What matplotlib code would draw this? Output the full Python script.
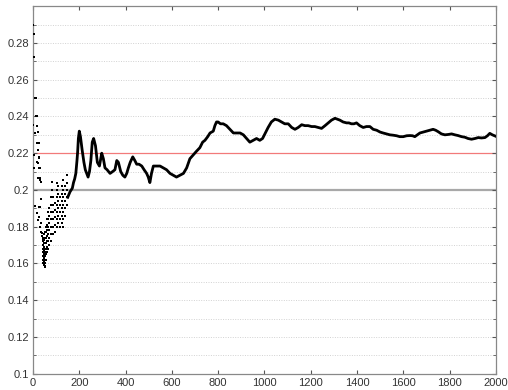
import matplotlib
matplotlib.use("Agg")
import matplotlib.pyplot as plt
from matplotlib.ticker import MultipleLocator

plt.rcParams['font.family'] = ['Liberation Sans', 'DejaVu Sans']

# running estimate after the first ~150 samples
est_x = [150, 160, 170, 175, 180, 185, 190, 193, 196, 200, 205, 212, 220, 226, 232,
         238, 244, 250, 256, 262, 270, 278, 287, 297, 304, 311, 320, 333, 344, 354,
         362, 369, 379, 388, 397, 405, 412, 420, 431, 440, 448, 458, 470, 480, 491,
         498, 505, 512, 520, 535, 549, 563, 577, 592, 606, 620, 635, 650, 664, 678,
         692, 706, 721, 733, 743, 755, 765, 779, 786, 793, 800, 810, 822, 836, 851,
         866, 880, 895, 909, 923, 937, 952, 966, 980, 992, 1004, 1016, 1030, 1045,
         1060, 1074, 1088, 1103, 1118, 1132, 1146, 1161, 1175, 1189, 1204, 1218,
         1232, 1247, 1262, 1276, 1290, 1305, 1315, 1326, 1340, 1355, 1365, 1376,
         1387, 1398, 1412, 1427, 1441, 1456, 1470, 1485, 1500, 1513, 1528, 1542,
         1556, 1571, 1585, 1600, 1615, 1629, 1640, 1650, 1661, 1672, 1686, 1701,
         1715, 1729, 1740, 1751, 1765, 1780, 1795, 1809, 1823, 1837, 1852, 1866,
         1880, 1895, 1910, 1924, 1938, 1953, 1964, 1974, 1985, 1996, 2000]
est_y = [0.196, 0.199, 0.201, 0.204, 0.206, 0.209, 0.216, 0.221, 0.228, 0.232, 0.229,
         0.222, 0.215, 0.211, 0.209, 0.207, 0.210, 0.216, 0.226, 0.228, 0.224, 0.215,
         0.213, 0.220, 0.217, 0.212, 0.211, 0.209, 0.210, 0.211, 0.216, 0.215, 0.210,
         0.208, 0.207, 0.209, 0.212, 0.215, 0.218, 0.216, 0.214, 0.214, 0.213, 0.211,
         0.209, 0.207, 0.204, 0.209, 0.213, 0.213, 0.213, 0.212, 0.211, 0.209, 0.208,
         0.207, 0.208, 0.209, 0.212, 0.217, 0.219, 0.221, 0.223, 0.226, 0.227, 0.229,
         0.231, 0.232, 0.235, 0.237, 0.237, 0.236, 0.236, 0.235, 0.233, 0.231, 0.231,
         0.231, 0.230, 0.228, 0.226, 0.227, 0.228, 0.227, 0.228, 0.231, 0.234, 0.237,
         0.2385, 0.238, 0.237, 0.236, 0.236, 0.234, 0.233, 0.234, 0.2355, 0.235,
         0.235, 0.2345, 0.2345, 0.234, 0.2335, 0.235, 0.2365, 0.238, 0.239, 0.2385,
         0.238, 0.237, 0.2365, 0.2365, 0.236, 0.236, 0.2365, 0.235, 0.234, 0.2345,
         0.2345, 0.233, 0.2325, 0.2315, 0.231, 0.2305, 0.230, 0.2298, 0.2295, 0.229,
         0.229, 0.2295, 0.2296, 0.2295, 0.229, 0.230, 0.231, 0.2315, 0.232, 0.2325,
         0.233, 0.2325, 0.2317, 0.2305, 0.230, 0.2302, 0.2305, 0.230, 0.2296, 0.229,
         0.2287, 0.228, 0.2276, 0.228, 0.2285, 0.2283, 0.2285, 0.2295, 0.2308, 0.230,
         0.2294, 0.2292]

# scattered early estimates (first ~180 samples)
early_x = [2, 4, 6, 8, 10, 14, 12, 16, 1, 9, 18, 20, 16, 24, 22, 4, 19, 26, 28, 20,
           4, 24, 30, 23, 30, 32, 36, 9, 34, 16, 26, 30, 23, 28, 30, 34, 38, 36, 40,
           42, 44, 46, 50, 52,
           45, 45, 45, 45, 45, 45, 45, 45,
           48, 48, 48, 48, 48, 48, 48, 48, 48,
           52, 52, 52, 52, 52, 52, 52, 52, 52,
           56, 56, 56, 56, 56, 56, 56,
           60, 60, 60, 60, 60, 60, 60,
           65, 65, 65, 65, 65, 65,
           70, 70, 70, 70, 70, 70,
           76, 76, 76, 76, 76, 76, 76,
           81, 81, 81, 81, 81, 81, 81, 81,
           88, 88, 88, 88, 88, 88,
           95, 95, 95, 95, 95,
           102, 102, 102, 102, 102, 102, 102,
           110, 110, 110, 110, 110, 110,
           117, 117, 117, 117, 117,
           124, 124, 124, 124, 124, 124,
           131, 131, 131, 131, 131, 131, 131,
           138, 138, 138, 138, 138,
           146, 146, 146, 146, 146]
early_y = [0.29, 0.285, 0.2726, 0.25, 0.25, 0.25, 0.24, 0.24, 0.2354, 0.231, 0.2348,
           0.2318, 0.2254, 0.2256, 0.222, 0.219, 0.2154, 0.218, 0.2175, 0.2147,
           0.2118, 0.2118, 0.2118, 0.2064, 0.2065, 0.2055, 0.2045, 0.191, 0.195,
           0.1873, 0.1907, 0.1907, 0.1837, 0.1855, 0.18, 0.182, 0.1764, 0.177, 0.175,
           0.1728, 0.170, 0.1673, 0.162, 0.1588,
           0.160, 0.162, 0.164, 0.166, 0.168, 0.170, 0.172, 0.174,
           0.159, 0.161, 0.163, 0.165, 0.167, 0.169, 0.171, 0.173, 0.176,
           0.158, 0.160, 0.162, 0.164, 0.166, 0.168, 0.171, 0.174, 0.177,
           0.162, 0.165, 0.168, 0.171, 0.174, 0.177, 0.180,
           0.166, 0.169, 0.172, 0.175, 0.178, 0.181, 0.184,
           0.168, 0.172, 0.176, 0.180, 0.184, 0.188,
           0.170, 0.174, 0.178, 0.182, 0.186, 0.190,
           0.172, 0.176, 0.180, 0.184, 0.188, 0.192, 0.196,
           0.176, 0.180, 0.184, 0.188, 0.192, 0.196, 0.200, 0.2045,
           0.176, 0.180, 0.184, 0.188, 0.192, 0.196,
           0.177, 0.181, 0.185, 0.189, 0.193,
           0.180, 0.184, 0.188, 0.192, 0.196, 0.200, 0.204,
           0.182, 0.186, 0.190, 0.194, 0.198, 0.202,
           0.180, 0.184, 0.188, 0.192, 0.196,
           0.182, 0.186, 0.190, 0.194, 0.198, 0.202,
           0.180, 0.184, 0.188, 0.192, 0.196, 0.200, 0.2055,
           0.186, 0.190, 0.194, 0.198, 0.202,
           0.192, 0.196, 0.200, 0.204, 0.208]

target = 0.22
baseline = 0.2

fig = plt.figure(figsize=(5.08, 3.9), dpi=100)
ax = fig.add_axes([0.065, 0.042, 0.911, 0.942])

# dotted horizontal grid every 0.01
for g in range(11, 30):
    yv = g / 100
    if abs(yv - baseline) < 1e-9:
        continue
    ax.axhline(yv, color='#d2d2d2', lw=0.7, ls=(0, (1, 1.5)), zorder=0)

ax.axhline(baseline, color='#a8a8a8', lw=1.6, zorder=1)
ax.axhline(target, color='#f27a7a', lw=0.9, zorder=1)

ax.plot(early_x, early_y, ls='none', marker='s', ms=1.6, mew=0, color='black', zorder=3)
ax.plot(est_x, est_y, color='black', lw=2.0, zorder=3)

ax.set_xlim(0, 2000)
ax.set_ylim(0.1, 0.3)
ax.xaxis.set_major_locator(MultipleLocator(200))
ax.yaxis.set_minor_locator(MultipleLocator(0.01))
ax.set_yticks([0.1, 0.12, 0.14, 0.16, 0.18, 0.2, 0.22, 0.24, 0.26, 0.28])
ax.set_yticklabels(['0.1', '0.12', '0.14', '0.16', '0.18', '0.2', '0.22', '0.24', '0.26', '0.28'])

ax.tick_params(which='both', direction='in', top=True, right=True, color='#555555',
               labelsize=8, labelcolor='#333333', pad=3)
ax.tick_params(which='major', length=3)
ax.tick_params(which='minor', length=2)
for s in ax.spines.values():
    s.set_color('#888888')
    s.set_linewidth(0.9)

fig.savefig('out.png', dpi=100)
